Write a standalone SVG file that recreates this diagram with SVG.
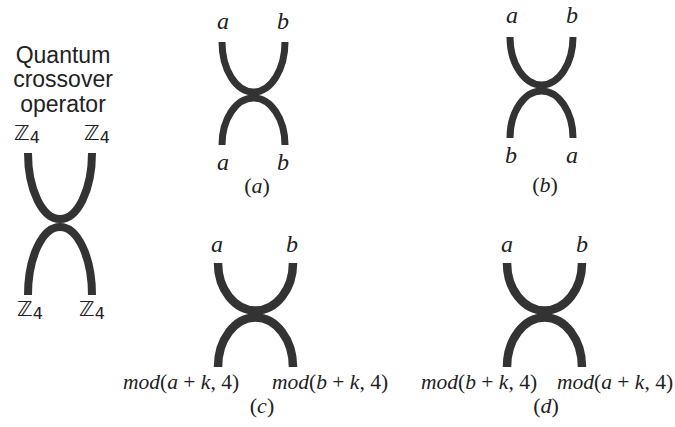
<svg xmlns="http://www.w3.org/2000/svg" width="675" height="427" viewBox="0 0 675 427">
<style>
.s{fill:none;stroke:#333;stroke-linecap:butt}
.m{font-family:"Liberation Serif","DejaVu Serif",serif;font-style:italic;font-size:24px;fill:#222;text-anchor:middle}
.c{font-size:22px}
.e{font-family:"Liberation Serif","DejaVu Serif",serif;font-style:italic;font-size:21.5px;fill:#222}
.u{font-style:normal}
.t{font-family:"Liberation Sans",Arial,sans-serif;font-size:23px;fill:#222;text-anchor:middle}
.z{font-family:"DejaVu Sans",sans-serif;font-size:21px;fill:#222}
.zs{font-size:16px}
</style>
<rect width="675" height="427" fill="#fff"/>
<g id="title">
<text class="t" x="63" y="63">Quantum</text>
<text class="t" x="63" y="87">crossover</text>
<text class="t" x="63" y="112">operator</text>
</g>
<g id="operator">
<path class="s" stroke-width="8" d="M28,153 A32,66 0 0 0 92,153"/>
<path class="s" stroke-width="8" d="M28,295 A32,68 0 0 1 92,295"/>
<text class="z" x="14" y="140">ℤ<tspan class="zs" dy="3">4</tspan></text>
<text class="z" x="84" y="140">ℤ<tspan class="zs" dy="3">4</tspan></text>
<text class="z" x="17" y="316">ℤ<tspan class="zs" dy="3">4</tspan></text>
<text class="z" x="79" y="316">ℤ<tspan class="zs" dy="3">4</tspan></text>
</g>
<g id="fig-a">
<path class="s" stroke-width="7" d="M222,42 A31.5,50 0 0 0 285,42"/>
<path class="s" stroke-width="7" d="M222,145 A31.5,47 0 0 1 285,145"/>
<text class="m" x="223" y="29">a</text>
<text class="m" x="283" y="29">b</text>
<text class="m" x="223" y="170">a</text>
<text class="m" x="283" y="170">b</text>
<text class="m c" x="257" y="193"><tspan class="u">(</tspan>a<tspan class="u">)</tspan></text>
</g>
<g id="fig-b">
<path class="s" stroke-width="7" d="M510,37 A31.5,48 0 0 0 573,37"/>
<path class="s" stroke-width="7" d="M510,138 A31.5,47 0 0 1 573,138"/>
<text class="m" x="512" y="23">a</text>
<text class="m" x="572" y="23">b</text>
<text class="m" x="511" y="163">b</text>
<text class="m" x="572" y="163">a</text>
<text class="m c" x="545" y="192"><tspan class="u">(</tspan>b<tspan class="u">)</tspan></text>
</g>
<g id="fig-c">
<path class="s" stroke-width="8.5" d="M218,263 A37.5,47.5 0 0 0 293,263"/>
<path class="s" stroke-width="8.5" d="M218,367 A37.5,49.5 0 0 1 293,367"/>
<text class="m" x="217" y="252">a</text>
<text class="m" x="292" y="252">b</text>
<text class="e" x="123" y="389">mod<tspan class="u">(</tspan>a <tspan class="u">+</tspan> k<tspan class="u">, 4)</tspan></text>
<text class="e" x="272" y="389">mod<tspan class="u">(</tspan>b <tspan class="u">+</tspan> k<tspan class="u">, 4)</tspan></text>
<text class="m c" x="262" y="413"><tspan class="u">(</tspan>c<tspan class="u">)</tspan></text>
</g>
<g id="fig-d">
<path class="s" stroke-width="8.5" d="M507,263 A37.5,47.5 0 0 0 582,263"/>
<path class="s" stroke-width="8.5" d="M507,367 A37.5,49.5 0 0 1 582,367"/>
<text class="m" x="507" y="252">a</text>
<text class="m" x="582" y="252">b</text>
<text class="e" x="421" y="389">mod<tspan class="u">(</tspan>b <tspan class="u">+</tspan> k<tspan class="u">, 4)</tspan></text>
<text class="e" x="557" y="389">mod<tspan class="u">(</tspan>a <tspan class="u">+</tspan> k<tspan class="u">, 4)</tspan></text>
<text class="m c" x="546" y="413"><tspan class="u">(</tspan>d<tspan class="u">)</tspan></text>
</g>
<g id="connectors"/>
</svg>
